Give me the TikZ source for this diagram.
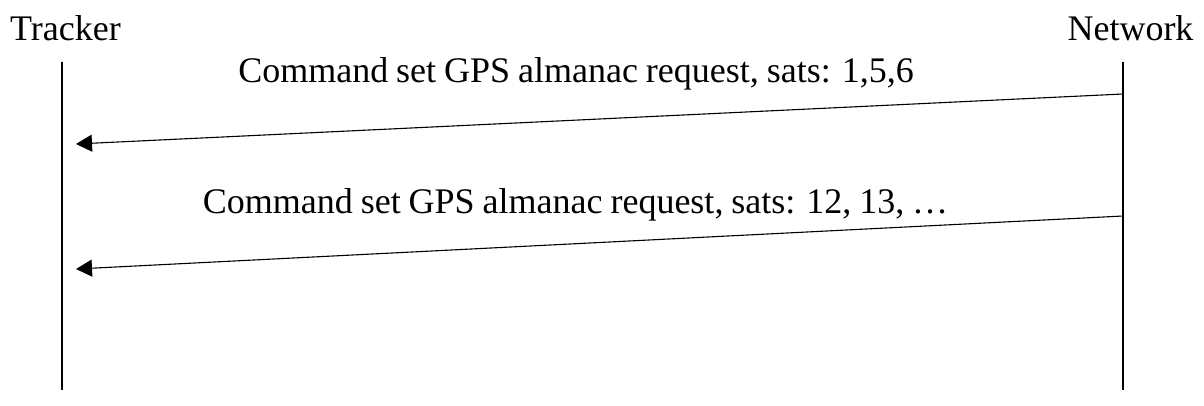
\documentclass[tikz,border=0pt]{standalone}
\usepackage{fontspec}
\setmainfont{Liberation Serif}
\usetikzlibrary{arrows.meta}
\newcommand\lblfont{\fontsize{36}{40}\selectfont\spaceskip 0.22em plus 0.1em minus 0.05em\relax}
\begin{document}
\begin{tikzpicture}[x=1pt,y=-1pt,
  lbl/.style={anchor=base,inner sep=0pt,font=\lblfont},
  life/.style={line width=1.1pt},
  msg/.style={line width=1.1pt,-{Triangle[length=16pt,width=17pt]}}]
\useasboundingbox (0,0) rectangle (1204,406);
\node[lbl] (tracker) at (65.5,41) {Tracker};
\node[lbl] (network) at (1130.5,41) {Network};
\coordinate (tTop) at (62,62);
\coordinate (tBot) at (62,390);
\coordinate (nTop) at (1123,62);
\coordinate (nBot) at (1123,390);
\draw[life] (tTop) -- (tBot);
\draw[life] (nTop) -- (nBot);
\coordinate (m1s) at (1123,94);
\coordinate (m1e) at (76,144);
\coordinate (m2s) at (1123,216);
\coordinate (m2e) at (76,269);
\draw[msg] (m1s) -- (m1e);
\draw[msg] (m2s) -- (m2e);
\node[lbl] (l1) at (576,83) {Command set GPS almanac request, sats: 1,5,6};
\node[lbl] (l2) at (575.5,213) {Command set GPS almanac request, sats: 12, 13, …};
\end{tikzpicture}
\end{document}
